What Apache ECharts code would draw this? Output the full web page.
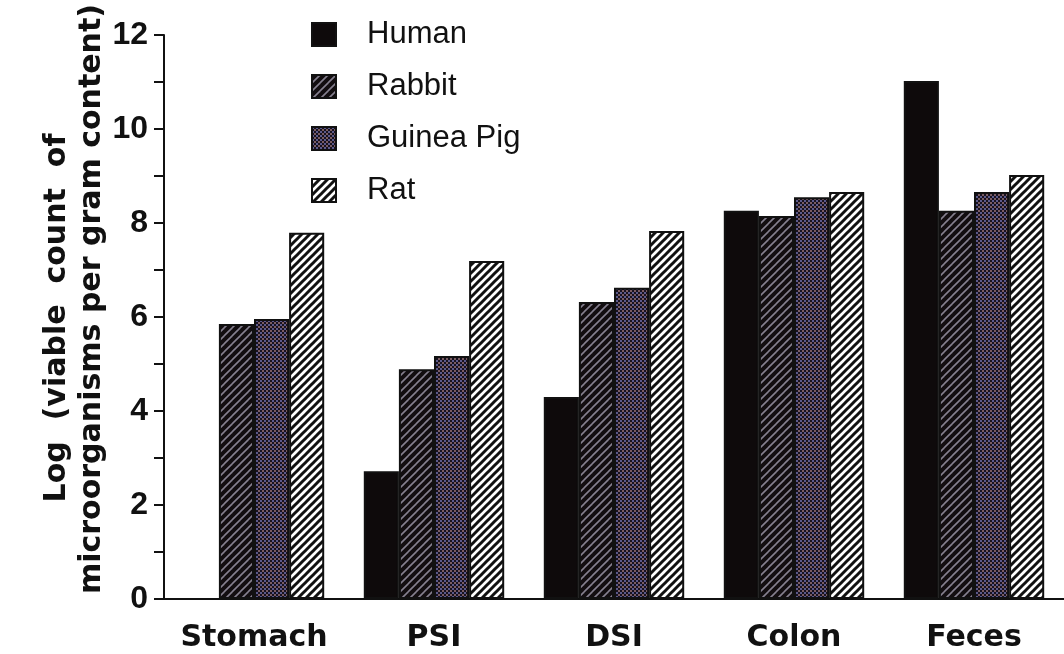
<!DOCTYPE html>
<html>
<head>
<meta charset="utf-8">
<script src="https://cdn.jsdelivr.net/npm/echarts@6/dist/echarts.min.js"></script>
<style>
  html, body { margin: 0; padding: 0; background: #fff; }
  #chart { width: 1064px; height: 654px; }
</style>
</head>
<body>
<div id="chart"></div>
<script>
// Gut regions sampled
const categories = ['Stomach', 'PSI', 'DSI', 'Colon', 'Feces'];

// Log10 viable counts per gram of content, by species
const human     = [null, 2.72, 4.30, 8.26, 11.02];
const rabbit    = [5.85, 4.89, 6.32, 8.15, 8.26];
const guineaPig = [5.96, 5.17, 6.62, 8.55, 8.66];
const rat       = [7.79, 7.19, 7.83, 8.66, 9.02];

const seriesNames = ['Human', 'Rabbit', 'Guinea Pig', 'Rat'];
const yAxisTitle = ['Log  (viable  count  of', 'microorganisms per gram content)'];

// Fill patterns drawn on small tiles
function diagonalTile(bg, fg, size, width) {
  const c = document.createElement('canvas');
  c.width = size; c.height = size;
  const g = c.getContext('2d');
  g.fillStyle = bg; g.fillRect(0, 0, size, size);
  g.strokeStyle = fg; g.lineWidth = width; g.lineCap = 'square';
  for (const o of [-size, 0, size]) {
    g.beginPath();
    g.moveTo(o, size);
    g.lineTo(o + size, 0);
    g.stroke();
  }
  return c;
}

function dotTile() {
  const c = document.createElement('canvas');
  c.width = 4; c.height = 4;
  const g = c.getContext('2d');
  g.fillStyle = '#17121f'; g.fillRect(0, 0, 4, 4);
  g.fillStyle = '#5c5a8c'; g.fillRect(0, 0, 2, 2);
  g.fillStyle = '#7a5c62'; g.fillRect(2, 2, 2, 2);
  return c;
}

const fills = [
  '#0e0a0b',
  { image: diagonalTile('#120d10', '#85808f', 8, 1.6), repeat: 'repeat' },
  { image: dotTile(), repeat: 'repeat' },
  { image: diagonalTile('#ffffff', '#111111', 8, 3), repeat: 'repeat' }
];

const values = [human, rabbit, guineaPig, rat];

const chart = echarts.init(document.getElementById('chart'), null, { renderer: 'canvas' });

chart.setOption({
  animation: false,
  backgroundColor: '#ffffff',
  grid: { left: 164, right: -7, top: 35, bottom: 55, containLabel: false },
  legend: {
    orient: 'vertical',
    left: 306,
    top: 14,
    itemWidth: 24,
    itemHeight: 23,
    itemGap: 21,
    icon: 'rect',
    selectedMode: false,
    textStyle: {
      fontFamily: '"Liberation Sans", Arial, sans-serif',
      fontSize: 31,
      color: '#111',
      padding: [0, 0, 0, 26]
    },
    data: seriesNames
  },
  xAxis: {
    type: 'category',
    data: categories,
    axisLine: { lineStyle: { color: '#111', width: 2 } },
    axisTick: { length: 7, lineStyle: { color: '#111', width: 2 } },
    axisLabel: {
      interval: 0,
      hideOverlap: false,
      margin: 24,
      fontFamily: '"DejaVu Sans", sans-serif',
      fontWeight: 'bold',
      fontSize: 30,
      color: '#111'
    }
  },
  yAxis: {
    type: 'value',
    min: 0,
    max: 12,
    interval: 1,
    axisLine: { show: true, lineStyle: { color: '#111', width: 2 } },
    axisTick: { show: true, length: 10, lineStyle: { color: '#111', width: 2 } },
    splitLine: { show: false },
    axisLabel: {
      margin: 16,
      fontFamily: '"Liberation Sans", Arial, sans-serif',
      fontWeight: 'bold',
      fontSize: 32,
      color: '#111',
      formatter: v => (v % 2 === 0 ? String(v) : '')
    }
  },
  graphic: [
    {
      type: 'text', x: 57, y: 318, rotation: Math.PI / 2,
      style: {
        text: yAxisTitle[0], fill: '#111',
        font: 'bold 30px "DejaVu Sans", sans-serif',
        textAlign: 'center', textVerticalAlign: 'middle',
        align: 'center', verticalAlign: 'middle'
      }
    },
    {
      type: 'text', x: 92, y: 299, rotation: Math.PI / 2,
      style: {
        text: yAxisTitle[1], fill: '#111',
        font: 'bold 30px "DejaVu Sans", sans-serif',
        textAlign: 'center', textVerticalAlign: 'middle',
        align: 'center', verticalAlign: 'middle'
      }
    }
  ],
  series: seriesNames.map((name, i) => ({
    name,
    type: 'bar',
    data: values[i],
    barGap: '0%',
    barCategoryGap: '22%',
    itemStyle: { color: fills[i], borderColor: '#111', borderWidth: 2 },
    emphasis: { disabled: true }
  }))
});
</script>
</body>
</html>
